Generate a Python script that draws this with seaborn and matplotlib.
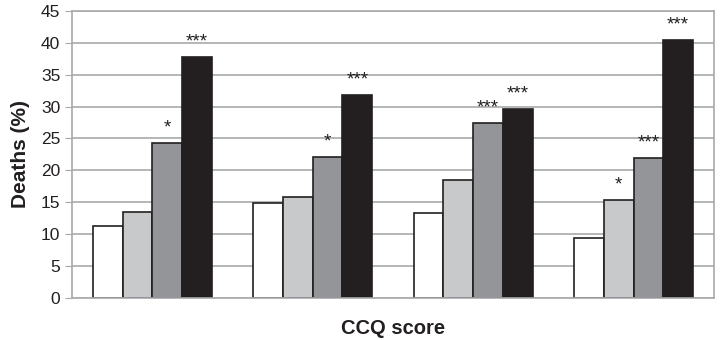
import pandas as pd
import matplotlib.pyplot as plt
import seaborn as sns

# data
groups = ['G1', 'G2', 'G3', 'G4']
levels = ['A', 'B', 'C', 'D']
white_vals = [11.3, 14.9, 13.3, 9.4]
light_vals = [13.5, 15.8, 18.5, 15.4]
mid_vals = [24.3, 22.1, 27.4, 21.9]
black_vals = [37.8, 31.8, 29.6, 40.4]
stars = [
    ['', '', '*', '***'],
    ['', '', '*', '***'],
    ['', '', '***', '***'],
    ['', '*', '***', '***'],
]
colors = ['#ffffff', '#c8c9cb', '#939598', '#231f20']

rows = []
for lvl, vals in zip(levels, [white_vals, light_vals, mid_vals, black_vals]):
    for g, v in zip(groups, vals):
        rows.append({'group': g, 'level': lvl, 'deaths': v})
df = pd.DataFrame(rows)

sns.set_style('white')
plt.rcParams['font.family'] = ['Liberation Sans', 'DejaVu Sans']

fig, ax = plt.subplots(figsize=(7.21, 3.4), dpi=100)
sns.barplot(data=df, x='group', y='deaths', hue='level', hue_order=levels,
            palette=colors, edgecolor='#231f20', linewidth=1.2,
            width=0.74, gap=0, ax=ax, legend=False, saturation=1)

# significance stars above bars
for lvl_i, container in enumerate(ax.containers):
    for g_i, bar in enumerate(container):
        s = stars[g_i][lvl_i]
        if s:
            ax.text(bar.get_x() + bar.get_width() / 2, bar.get_height() + 1.0, s,
                    ha='center', va='bottom', fontsize=13.5, color='#231f20')

ax.set_ylim(0, 45)
ax.set_yticks(range(0, 46, 5))
ax.set_xlim(-0.5, 3.5)
ax.set_xticks([])
ax.yaxis.grid(True, color='#a7a9ac', linewidth=1.2)
ax.set_axisbelow(True)
for sp in ax.spines.values():
    sp.set_color('#a7a9ac')
    sp.set_linewidth(1.2)
ax.tick_params(axis='y', left=True, length=5, color='#a7a9ac', labelsize=12.5, labelcolor='#231f20')
ax.set_xlabel('CCQ score', fontsize=14.5, fontweight='bold', color='#231f20', labelpad=15)
ax.set_ylabel('Deaths (%)', fontsize=15, fontweight='bold', color='#231f20', labelpad=8)

plt.subplots_adjust(left=0.1, right=0.99, top=0.968, bottom=0.124)
plt.savefig('out.png', dpi=100)
